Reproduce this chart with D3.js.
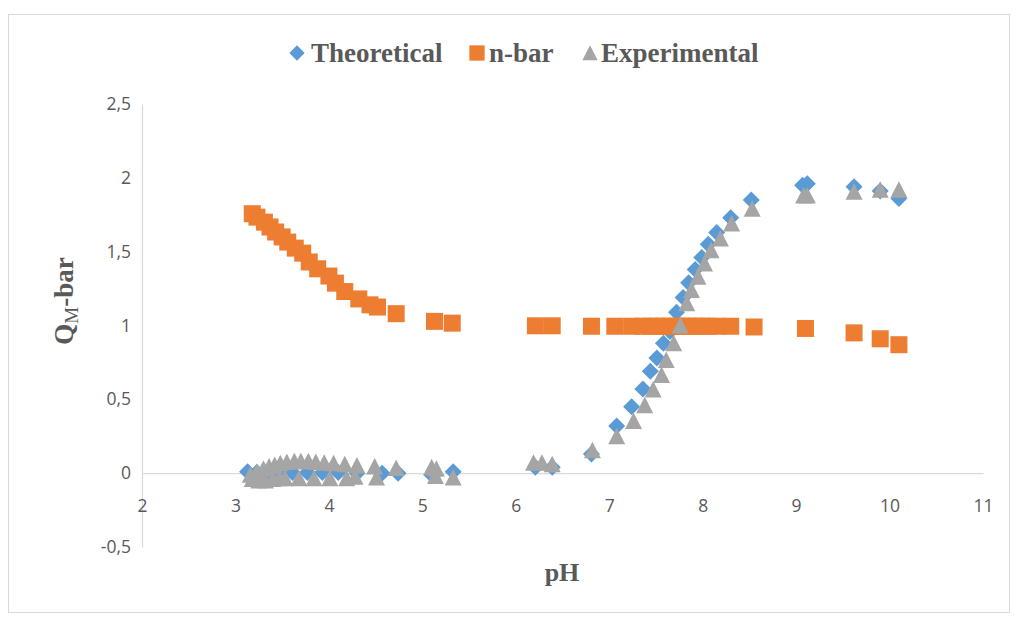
<!DOCTYPE html>
<html>
<head>
<meta charset="utf-8">
<script src="https://cdn.jsdelivr.net/npm/d3@7/dist/d3.min.js"></script>
<style>
  html, body { margin: 0; padding: 0; background: #ffffff; }
  svg { display: block; }
</style>
</head>
<body>
<svg id="chart" width="1017" height="617"></svg>
<script>
// Axis ticks
const xTicks = [2, 3, 4, 5, 6, 7, 8, 9, 10, 11];
const yTicks = [-0.5, 0, 0.5, 1, 1.5, 2, 2.5];

// Series names
const seriesNames = ["Theoretical", "n-bar", "Experimental"];

// n-bar (pH, value)
const nbarPH = [3.18, 3.23, 3.31, 3.37, 3.43, 3.50, 3.56, 3.64, 3.72, 3.79, 3.88, 4.00, 4.07, 4.17, 4.32, 4.44, 4.52, 4.72,
  5.13, 5.32, 6.21, 6.39, 6.81, 7.06, 7.24, 7.36, 7.44, 7.51, 7.58, 7.65, 7.72, 7.79, 7.85, 7.92, 7.99, 8.06, 8.15, 8.30,
  8.55, 9.10, 9.62, 9.90, 10.10];
const nbarQ = [1.757, 1.734, 1.70, 1.667, 1.633, 1.60, 1.565, 1.524, 1.49, 1.43, 1.384, 1.335, 1.287, 1.23, 1.18, 1.14, 1.125, 1.08,
  1.028, 1.016, 0.998, 0.998, 0.995, 0.995, 0.995, 0.995, 0.995, 0.995, 0.995, 0.995, 0.995, 0.995, 0.995, 0.995, 0.995, 0.995, 0.995, 0.995,
  0.99, 0.98, 0.95, 0.91, 0.87];

// Theoretical (pH, value)
const theoPH = [3.13, 3.23, 3.31, 3.37, 3.46, 3.61, 3.77, 3.93, 4.10, 4.30, 4.57, 4.74,
  5.10, 5.33, 6.21, 6.39, 6.81, 7.08, 7.24, 7.36, 7.44, 7.51, 7.58, 7.65, 7.72, 7.79, 7.85, 7.92, 7.99, 8.06, 8.15, 8.30, 8.52,
  9.07, 9.12, 9.62, 9.90, 10.10];
const theoQ = [0.01, 0.005, 0.0, 0.0, 0.005, 0.005, 0.005, 0.005, 0.005, 0.0, 0.0, 0.0,
  -0.01, 0.01, 0.04, 0.04, 0.13, 0.32, 0.45, 0.57, 0.69, 0.78, 0.88, 0.96, 1.09, 1.19, 1.29, 1.38, 1.46, 1.55, 1.63, 1.73, 1.85,
  1.95, 1.96, 1.94, 1.91, 1.86];

// Experimental (pH, value)
const expPH = [3.18, 3.25, 3.32, 3.40, 3.47, 3.53, 3.68, 3.84, 4.01, 4.19, 4.28, 4.51, 5.14, 5.33,
  3.16, 3.23, 3.30, 3.36, 3.42, 3.48, 3.55, 3.63, 3.70, 3.78, 3.86, 3.95, 4.05, 4.17, 4.30, 4.49, 4.72,
  5.10, 5.15, 6.19, 6.28, 6.39, 6.82, 7.08, 7.26, 7.38, 7.47, 7.56, 7.61, 7.69, 7.76, 7.83, 7.88, 7.95, 8.02, 8.09, 8.19, 8.31, 8.53,
  9.08, 9.12, 9.62, 9.90, 10.10];
const expQ = [-0.04, -0.05, -0.05, -0.04, -0.035, -0.035, -0.035, -0.035, -0.035, -0.035, -0.025, -0.03, -0.02, -0.03,
  -0.01, 0.01, 0.03, 0.045, 0.056, 0.068, 0.075, 0.08, 0.08, 0.08, 0.075, 0.07, 0.068, 0.06, 0.052, 0.045, 0.035,
  0.04, 0.03, 0.07, 0.07, 0.06, 0.156, 0.25, 0.354, 0.46, 0.567, 0.664, 0.766, 0.88, 1.0, 1.15, 1.24, 1.33, 1.42, 1.51, 1.59, 1.69, 1.79,
  1.88, 1.88, 1.906, 1.92, 1.92];

const colors = { theo: "#5B9BD5", nbar: "#ED7D31", exp: "#A5A5A5" };
const textColor = "#595959";
const axisColor = "#D9D9D9";

const svg = d3.select("#chart");

// Chart-area frame
svg.append("rect")
  .attr("x", 8.5).attr("y", 14.5)
  .attr("width", 1001).attr("height", 598)
  .attr("fill", "#ffffff")
  .attr("stroke", "#D9D9D9").attr("stroke-width", 1);

const x = d3.scaleLinear().domain([2, 11]).range([142, 983]);
const y = d3.scaleLinear().domain([-0.5, 2.5]).range([547, 104]);

const tickFont = "'Open Sans', 'Noto Sans', sans-serif";

// Axes: vertical at x = 2, horizontal crossing at y = 0
const yAxis = d3.axisLeft(y).tickValues(yTicks).tickSize(0).tickPadding(11)
  .tickFormat(d => String(d).replace(".", ","));
const gy = svg.append("g").attr("transform", `translate(${x(2)},0)`).call(yAxis);
gy.select(".domain").attr("stroke", axisColor).attr("stroke-width", 1.2);
gy.selectAll("text")
  .attr("font-family", tickFont)
  .attr("font-size", 17.5).attr("fill", textColor);

const xAxis = d3.axisBottom(x).tickValues(xTicks).tickSize(0).tickPadding(26)
  .tickFormat(d => String(d));
const gx = svg.append("g").attr("transform", `translate(0,${y(0)})`).call(xAxis);
gx.select(".domain").attr("stroke", axisColor).attr("stroke-width", 1.2);
gx.selectAll("text")
  .attr("font-family", tickFont)
  .attr("font-size", 17.5).attr("fill", textColor);

// Marker shapes
const S = 8.5;
const diamondPath = `M0,${-S}L${S},0L0,${S}L${-S},0Z`;
const squarePath = `M${-S},${-S}H${S}V${S}H${-S}Z`;
const triPath = `M0,${-S}L${S},${S - 0.5}L${-S},${S - 0.5}Z`;

function drawSeries(phs, vals, path, color) {
  const pts = phs.map((p, i) => ({ p, v: vals[i] }));
  svg.append("g").selectAll("path").data(pts).join("path")
    .attr("d", path)
    .attr("transform", d => `translate(${x(d.p)},${y(d.v)})`)
    .attr("fill", color);
}

drawSeries(theoPH, theoQ, diamondPath, colors.theo);
drawSeries(nbarPH, nbarQ, squarePath, colors.nbar);
drawSeries(expPH, expQ, triPath, colors.exp);

// Legend
const serif = "'Liberation Serif', 'Times New Roman', serif";
const legend = [
  { name: seriesNames[0], path: diamondPath, color: colors.theo, mx: 297, tx: 311 },
  { name: seriesNames[1], path: squarePath, color: colors.nbar, mx: 477, tx: 489 },
  { name: seriesNames[2], path: triPath, color: colors.exp, mx: 590, tx: 601 }
];
const lg = svg.append("g");
legend.forEach(it => {
  lg.append("path").attr("d", it.path)
    .attr("transform", `translate(${it.mx},53) scale(0.9)`)
    .attr("fill", it.color);
  lg.append("text").attr("x", it.tx).attr("y", 62)
    .attr("font-family", serif).attr("font-weight", "bold")
    .attr("font-size", 27).attr("fill", textColor)
    .text(it.name);
});

// Axis titles
svg.append("text")
  .attr("x", 562).attr("y", 581)
  .attr("text-anchor", "middle")
  .attr("font-family", serif).attr("font-weight", "bold")
  .attr("font-size", 26).attr("fill", textColor)
  .text("pH");

const yt = svg.append("text")
  .attr("transform", "translate(73,301) rotate(-90)")
  .attr("text-anchor", "middle")
  .attr("font-family", serif).attr("font-weight", "bold")
  .attr("font-size", 27).attr("fill", textColor);
yt.append("tspan").text("Q");
yt.append("tspan").attr("font-size", 19).attr("font-weight", "normal").attr("dy", 5).text("M");
yt.append("tspan").attr("dy", -5).text("-bar");
</script>
</body>
</html>
